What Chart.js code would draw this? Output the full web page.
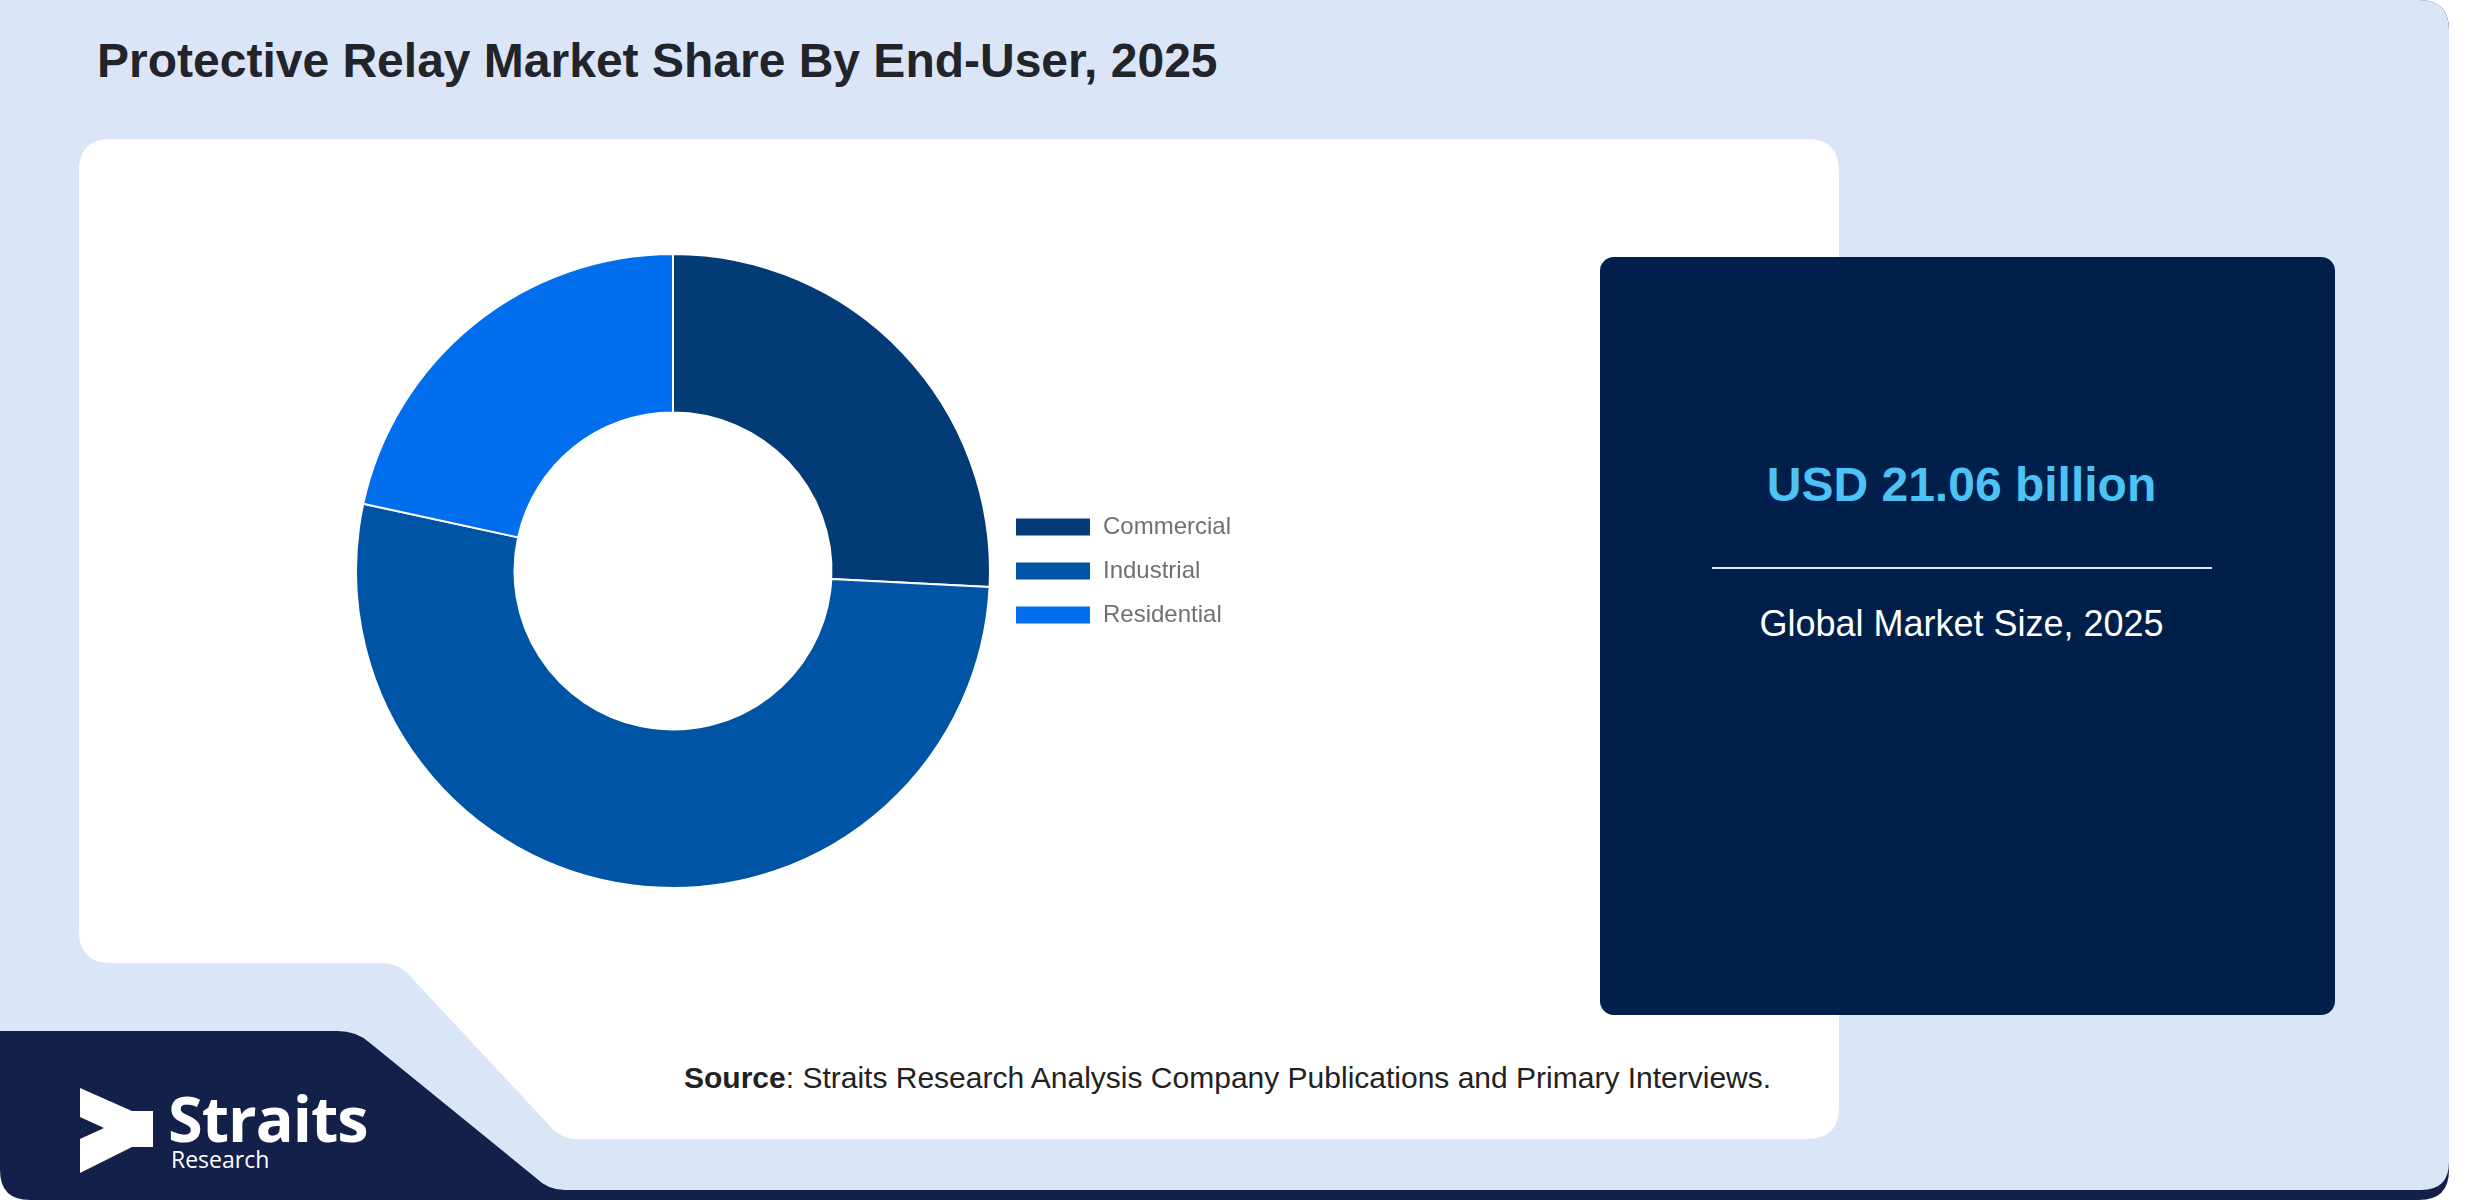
<!DOCTYPE html>
<html lang="en">
<head>
    <meta charset="UTF-8">
    <title>Protective Relay Market Share By End-User, 2025</title>
    <style>
        html, body { margin: 0; padding: 0; background: #ffffff; }
        body { width: 2480px; height: 1200px; position: relative; overflow: hidden; font-family: 'Liberation Sans', Arial, sans-serif; }
        #backdrop { position: absolute; left: 0; top: 0; }
        .txt { position: absolute; white-space: nowrap; line-height: 1; }
        #title { left: 97px; top: 37px; font-size: 48px; font-weight: bold; color: #212529; }
        #usd { left: 1594px; width: 735px; top: 461px; font-size: 48px; font-weight: bold; color: #4dc3f5; text-align: center; }
        #sub { left: 1594px; width: 735px; top: 606px; font-size: 36px; color: #ffffff; text-align: center; }
        #source { left: 684px; top: 1063px; font-size: 30px; color: #222222; }
        #brand { left: 168px; top: 1091px; font-size: 63px; line-height: 0.85; font-weight: bold; color: #ffffff; font-family: 'Open Sans', sans-serif; letter-spacing: -1px; }
        #brand2 { left: 171px; top: 1148px; font-size: 23px; color: #ffffff; font-family: 'Open Sans', sans-serif; }
        #chartBox { position: absolute; left: 351px; top: 253px; width: 890px; height: 636px; }
    </style>
</head>
<body>
    <svg id="backdrop" width="2480" height="1200" viewBox="0 0 2480 1200">
        <!-- navy base, shows through at the logo corner and bottom strip -->
        <path d="M0,0 H2419 Q2449,0 2449,30 V1170 Q2449,1200 2419,1200 H30 Q0,1200 0,1170 Z" fill="#13204a"/>
        <!-- light blue card -->
        <path d="M0,0 H2419 Q2449,0 2449,30 V1162 Q2449,1190 2421,1190 H565 Q548,1190 536,1178 L370,1043 Q357,1031 337,1031 H0 Z" fill="#dae6f8"/>
        <!-- white chart panel with notch -->
        <path d="M111,139 H1807 Q1839,139 1839,171 V1107 Q1839,1139 1807,1139 H578 Q560,1139 549,1125 L410,976 Q399,963 380,963 H111 Q79,963 79,931 V171 Q79,139 111,139 Z" fill="#ffffff"/>
        <!-- market size panel -->
        <rect x="1600" y="257" width="735" height="758" rx="14" ry="14" fill="#001f4a"/>
        <line x1="1712" y1="568" x2="2212" y2="568" stroke="#dfe6f2" stroke-width="2"/>
        <!-- logo mark -->
        <polygon points="80,1088 132,1111 153,1111 153,1147 132,1147 80,1173 80,1139 104,1128 80,1117" fill="#ffffff"/>
    </svg>

    <div class="txt" id="title">Protective Relay Market Share By End-User, 2025</div>
    <div class="txt" id="usd">USD 21.06 billion</div>
    <div class="txt" id="sub">Global Market Size, 2025</div>
    <div class="txt" id="source"><b>Source</b>: Straits Research Analysis Company Publications and Primary Interviews.</div>
    <div class="txt" id="brand">Straits</div>
    <div class="txt" id="brand2">Research</div>

    <div id="chartBox"><canvas id="shareChart"></canvas></div>

    <script src="https://cdn.jsdelivr.net/npm/chart.js"></script>
    <script>
        // market share by end-user, 2025 (%)
        const segments = ['Commercial', 'Industrial', 'Residential'];
        const shares = [25.8, 52.6, 21.6];
        const segmentColors = ['#033b77', '#0054a6', '#006eed'];

        Chart.defaults.font.family = "'Liberation Sans', Arial, sans-serif";

        const ctx = document.getElementById('shareChart').getContext('2d');
        new Chart(ctx, {
            type: 'doughnut',
            data: {
                labels: segments,
                datasets: [{
                    data: shares,
                    backgroundColor: segmentColors,
                    borderColor: '#ffffff',
                    borderWidth: 2,
                    hoverOffset: 0
                }]
            },
            options: {
                responsive: true,
                maintainAspectRatio: false,
                animation: false,
                cutout: '50%',
                layout: { padding: 0 },
                plugins: {
                    legend: {
                        position: 'right',
                        labels: {
                            boxWidth: 76,
                            boxHeight: 19,
                            padding: 20,
                            color: '#707070',
                            font: { size: 24 }
                        }
                    },
                    tooltip: { enabled: false }
                }
            }
        });
    </script>
</body>
</html>
